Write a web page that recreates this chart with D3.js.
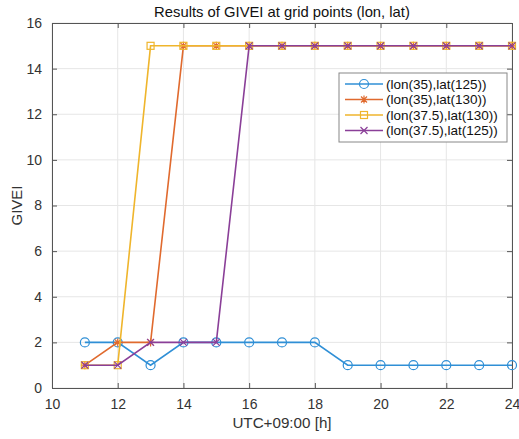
<!DOCTYPE html>
<html><head><meta charset="utf-8">
<script src="https://cdn.jsdelivr.net/npm/d3@7"></script>
<style>body{margin:0;background:#fff}svg{display:block;font-family:"Liberation Sans",Arial,sans-serif}</style>
</head><body>
<script>
const hours = [11,12,13,14,15,16,17,18,19,20,21,22,23,24];
const s1 = [2,2,1,2,2,2,2,2,1,1,1,1,1,1];
const s2 = [1,2,2,15,15,15,15,15,15,15,15,15,15,15];
const s3 = [1,1,15,15,15,15,15,15,15,15,15,15,15,15];
const s4 = [1,1,2,2,2,15,15,15,15,15,15,15,15,15];
const seriesNames = ["(lon(35),lat(125))","(lon(35),lat(130))","(lon(37.5),lat(130))","(lon(37.5),lat(125))"];
const seriesColors = ["#2f8fd6","#e06a2e","#efb52c","#8a3f98"];
const seriesMarkers = ["circle","asterisk","square","cross"];
const xTicks = [10,12,14,16,18,20,22,24];
const yTicks = [0,2,4,6,8,10,12,14,16];

const W=519,H=439;
const m={l:52,r:7,t:23,b:51};
const svg=d3.select("body").append("svg").attr("width",W).attr("height",H);
const x=d3.scaleLinear().domain([10,24]).range([m.l,W-m.r]);
const y=d3.scaleLinear().domain([0,16]).range([H-m.b,m.t]);
const g=svg.append("g");
g.selectAll(".gx").data(xTicks).join("line").attr("x1",d=>x(d)).attr("x2",d=>x(d)).attr("y1",y(0)).attr("y2",y(16)).attr("stroke","#e6e6e6").attr("stroke-width",1);
g.selectAll(".gy").data(yTicks).join("line").attr("y1",d=>y(d)).attr("y2",d=>y(d)).attr("x1",x(10)).attr("x2",x(24)).attr("stroke","#e6e6e6").attr("stroke-width",1);
const ax=svg.append("g").attr("transform",`translate(0,${y(0)})`).call(d3.axisBottom(x).tickValues(xTicks).tickSizeInner(-5).tickSizeOuter(0).tickPadding(11));
const ay=svg.append("g").attr("transform",`translate(${x(10)},0)`).call(d3.axisLeft(y).tickValues(yTicks).tickSizeInner(-5).tickSizeOuter(0).tickPadding(10));
const axT=svg.append("g").attr("transform",`translate(0,${y(16)})`).call(d3.axisTop(x).tickValues(xTicks).tickSizeInner(-5).tickSizeOuter(0).tickFormat(""));
const ayR=svg.append("g").attr("transform",`translate(${x(24)},0)`).call(d3.axisRight(y).tickValues(yTicks).tickSizeInner(-5).tickSizeOuter(0).tickFormat(""));
[ax,ay,axT,ayR].forEach(a=>{a.selectAll("path,line").attr("stroke","#555");a.selectAll("text").attr("fill","#333").attr("font-size",14).attr("font-family","Liberation Sans,Arial,sans-serif");});

const data=[s1,s2,s3,s4];
const line=d3.line().x((d,i)=>x(hours[i])).y(d=>y(d));
function marker(sel,type,color){
  if(type==="circle") sel.append("circle").attr("r",4.5).attr("fill","none").attr("stroke",color).attr("stroke-width",1.2);
  else if(type==="square") sel.append("rect").attr("x",-3.5).attr("y",-3.5).attr("width",7).attr("height",7).attr("fill","none").attr("stroke",color).attr("stroke-width",1.2);
  else if(type==="cross") sel.append("path").attr("d","M-3.5,-3.5L3.5,3.5M-3.5,3.5L3.5,-3.5").attr("stroke",color).attr("stroke-width",1.2);
  else sel.append("path").attr("d","M-4,0L4,0M0,-4L0,4M-3,-3L3,3M-3,3L3,-3").attr("stroke",color).attr("stroke-width",1.2);
}
data.forEach((s,k)=>{
  const sg=svg.append("g");
  sg.append("path").datum(s).attr("d",line).attr("fill","none").attr("stroke",seriesColors[k]).attr("stroke-width",1.6);
  s.forEach((v,i)=>{const mg=sg.append("g").attr("transform",`translate(${x(hours[i])},${y(v)})`);marker(mg,seriesMarkers[k],seriesColors[k]);});
});
const lg=svg.append("g").attr("transform","translate(339,73)");
lg.append("rect").attr("width",168).attr("height",69).attr("fill","#fff").attr("stroke","#888").attr("stroke-width",1);
seriesNames.forEach((n,k)=>{
  const yy=11+k*15.5;
  lg.append("line").attr("x1",6).attr("x2",44).attr("y1",yy).attr("y2",yy).attr("stroke",seriesColors[k]).attr("stroke-width",1.6);
  const mg=lg.append("g").attr("transform",`translate(25,${yy})`);marker(mg,seriesMarkers[k],seriesColors[k]);
  lg.append("text").attr("x",47).attr("y",yy).attr("dy","0.35em").attr("font-size",13.5).attr("fill","#111").text(n);
});
svg.append("text").attr("x",(x(10)+x(24))/2).attr("y",17).attr("text-anchor","middle").attr("font-size",14.8).attr("fill","#111").text("Results of GIVEI at grid points (lon, lat)");
svg.append("text").attr("x",(x(10)+x(24))/2).attr("y",428).attr("text-anchor","middle").attr("font-size",15.2).attr("fill","#333").text("UTC+09:00 [h]");
svg.append("text").attr("transform",`translate(22,${(y(0)+y(16))/2}) rotate(-90)`).attr("text-anchor","middle").attr("font-size",15).attr("fill","#333").text("GIVEI");
</script>
</body></html>
